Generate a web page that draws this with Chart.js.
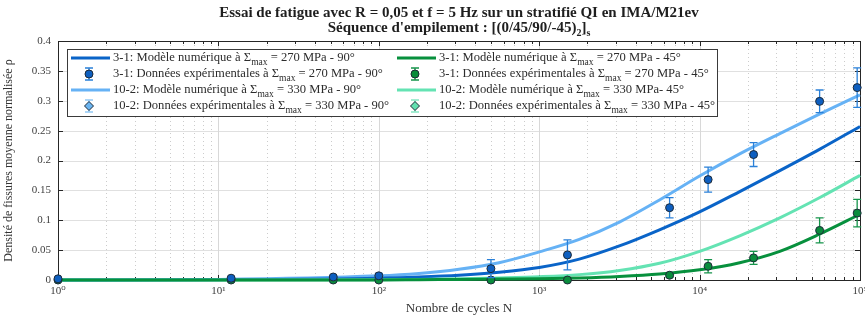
<!DOCTYPE html>
<html><head><meta charset="utf-8">
<script src="https://cdn.jsdelivr.net/npm/chart.js@4.4.1/dist/chart.umd.min.js"></script>
<style>html,body{margin:0;padding:0;background:#fff}#wrap{width:865px;height:320px;position:relative}</style>
</head><body><div id="wrap"><canvas id="c" width="865" height="320"></canvas></div>
<script>
// ---------- DATA ----------
const titleLines = [
  "Essai de fatigue avec R = 0,05 et f = 5 Hz sur un stratifié QI en IMA/M21ev",
  "Séquence d'empilement : [(0/45/90/-45)_{2}]_{s}"
];
const xAxisTitle = "Nombre de cycles N";
const yAxisTitle = "Densité de fissures moyenne normalisée ρ";

const seriesLabels = [
  "3-1: Modèle numérique à Σ_{max} = 270 MPa - 90°",
  "3-1: Données expérimentales à Σ_{max} = 270 MPa - 90°",
  "10-2: Modèle numérique à Σ_{max} = 330 MPa - 90°",
  "10-2: Données expérimentales à Σ_{max} = 330 MPa - 90°",
  "3-1: Modèle numérique à Σ_{max} = 270 MPa - 45°",
  "3-1: Données expérimentales à Σ_{max} = 270 MPa - 45°",
  "10-2: Modèle numérique à Σ_{max} = 330 MPa- 45°",
  "10-2: Données expérimentales à Σ_{max} = 330 MPa - 45°"
];

// model curves (N, rho) read at quarter decades
const modelN      = [1, 10, 100, 178, 316, 562, 1000, 1778, 3162, 5623, 10000, 17783, 31623, 56234, 100000];
const model31_90  = [0, 0.0005, 0.003, 0.005, 0.008, 0.013, 0.021, 0.035, 0.057, 0.084, 0.114, 0.148, 0.183, 0.219, 0.257];
const model102_90 = [0, 0.001, 0.007, 0.011, 0.018, 0.029, 0.047, 0.068, 0.097, 0.134, 0.174, 0.211, 0.245, 0.278, 0.310];
const model31_45  = [0, 0, 0, 0.0005, 0.001, 0.0015, 0.002, 0.0035, 0.006, 0.010, 0.017, 0.029, 0.048, 0.077, 0.110];
const model102_45 = [0, 0, 0.0005, 0.001, 0.002, 0.0035, 0.0055, 0.009, 0.016, 0.028, 0.048, 0.074, 0.104, 0.138, 0.175];

// experimental data
const expN      = [1, 12, 52, 100, 500, 1500, 6500, 11300, 21700, 56000, 96000];
const exp31_90  = [0.002, 0.003, 0.005, 0.007, 0.019, 0.042, 0.121, 0.168, 0.210, 0.299, 0.322];
const err31_90  = [0, 0.002, 0.002, 0.004, 0.015, 0.025, 0.017, 0.021, 0.020, 0.019, 0.033];
const exp31_45  = [0, 0, 0, 0, 0, 0, 0.008, 0.023, 0.037, 0.083, 0.112];
const err31_45  = [0, 0, 0, 0, 0, 0, 0.003, 0.011, 0.011, 0.021, 0.023];
const exp102_90 = [];
const err102_90 = [];
const exp102_45 = [];
const err102_45 = [];

const yTicks = [0, 0.05, 0.1, 0.15, 0.2, 0.25, 0.3, 0.35, 0.4];
const yTickLabels = ["0", "0.05", "0.1", "0.15", "0.2", "0.25", "0.3", "0.35", "0.4"];
const xDecades = [1, 10, 100, 1000, 10000, 100000];
const xTickLabels = ["10⁰", "10¹", "10²", "10³", "10⁴", "10⁵"];

// ---------- STYLE ----------
const C = {
  db: '#0a64c8', lb: '#66b2f5', dg: '#07903d', lg: '#64e3b3',
  dbMark: '#0e5fc0', dgMark: '#0a8c3c', lbMark: '#6ab4f0', lgMark: '#62e0b0',
  dbErr: '#2a80d8', dgErr: '#16944b', lbErr: '#92c9f5', lgErr: '#86e8c4',
  edge: '#1d2a38'
};
const SERIF = '"Liberation Serif", "DejaVu Serif", serif';

function pts(xs, ys) { return ys.map((y, i) => ({ x: xs[i], y: y })); }

function parseRich(s) {
  const out = []; const re = /_\{([^}]*)\}/g; let last = 0, m;
  while ((m = re.exec(s))) {
    if (m.index > last) out.push({ t: s.slice(last, m.index), sub: false });
    out.push({ t: m[1], sub: true }); last = re.lastIndex;
  }
  if (last < s.length) out.push({ t: s.slice(last), sub: false });
  return out;
}
function drawRich(ctx, s, x, y, font, subFont, align, subDy) {
  const segs = parseRich(s); let w = 0;
  segs.forEach(g => { ctx.font = g.sub ? subFont : font; g.w = ctx.measureText(g.t).width; w += g.w; });
  let cx = align === 'center' ? x - w / 2 : x;
  ctx.textBaseline = 'middle'; ctx.textAlign = 'left';
  segs.forEach(g => { ctx.font = g.sub ? subFont : font; ctx.fillText(g.t, cx, g.sub ? y + subDy : y); cx += g.w; });
}

const lineBase = { borderWidth: 3, pointRadius: 0, cubicInterpolationMode: 'monotone', clip: false };
const datasets = [
  Object.assign({ label: seriesLabels[0], data: pts(modelN, model31_90), borderColor: C.db, order: 4 }, lineBase),
  Object.assign({ label: seriesLabels[2], data: pts(modelN, model102_90), borderColor: C.lb, order: 5 }, lineBase),
  Object.assign({ label: seriesLabels[6], data: pts(modelN, model102_45), borderColor: C.lg, order: 3 }, lineBase),
  Object.assign({ label: seriesLabels[4], data: pts(modelN, model31_45), borderColor: C.dg, order: 2 }, lineBase),
  { label: seriesLabels[3], data: pts(expN, exp102_90), errors: err102_90, errColor: C.lbErr, showLine: false, pointStyle: 'rectRot', pointRadius: 4.5, backgroundColor: C.lbMark, borderColor: C.edge, borderWidth: 1, order: 1, clip: false },
  { label: seriesLabels[7], data: pts(expN, exp102_45), errors: err102_45, errColor: C.lgErr, showLine: false, pointStyle: 'rectRot', pointRadius: 4.5, backgroundColor: C.lgMark, borderColor: C.edge, borderWidth: 1, order: 1, clip: false },
  { label: seriesLabels[1], data: pts(expN, exp31_90), errors: err31_90, errColor: C.dbErr, showLine: false, pointStyle: 'circle', pointRadius: 4, backgroundColor: C.dbMark, borderColor: C.edge, borderWidth: 1, order: 0, clip: false },
  { label: seriesLabels[5], data: pts(expN, exp31_45), errors: err31_45, errColor: C.dgErr, showLine: false, pointStyle: 'circle', pointRadius: 4, backgroundColor: C.dgMark, borderColor: C.edge, borderWidth: 1, order: 0, clip: false }
];

// legend layout entries: [datasetIndex, col, row, symbol]
const legendItems = [
  [0, 0, 0, 'line'], [6, 0, 1, 'circle'], [1, 0, 2, 'line'], [4, 0, 3, 'diamond'],
  [3, 1, 0, 'line'], [7, 1, 1, 'circle'], [2, 1, 2, 'line'], [5, 1, 3, 'diamond']
];

const gridPlugin = {
  id: 'gridBox',
  beforeDatasetsDraw(chart) {
    const { ctx, chartArea: a, scales: { x, y } } = chart;
    ctx.save();
    ctx.strokeStyle = '#e0e0e0'; ctx.lineWidth = 1;
    yTicks.forEach(v => { const py = Math.round(y.getPixelForValue(v)) + 0.5; ctx.beginPath(); ctx.moveTo(a.left, py); ctx.lineTo(a.right, py); ctx.stroke(); });
    for (let d = 0; d < xDecades.length; d++) {
      const dec = xDecades[d];
      const px = Math.round(x.getPixelForValue(dec)) + 0.5;
      ctx.setLineDash([]); ctx.strokeStyle = '#d8d8d8';
      ctx.beginPath(); ctx.moveTo(px, a.top); ctx.lineTo(px, a.bottom); ctx.stroke();
      if (d < xDecades.length - 1) {
        ctx.setLineDash([1, 3]); ctx.strokeStyle = '#cccccc';
        for (let m = 2; m <= 9; m++) {
          const qx = Math.round(x.getPixelForValue(dec * m)) + 0.5;
          ctx.beginPath(); ctx.moveTo(qx, a.top); ctx.lineTo(qx, a.bottom); ctx.stroke();
        }
      }
    }
    ctx.setLineDash([]);
    ctx.strokeStyle = '#262626'; ctx.lineWidth = 1;
    ctx.strokeRect(Math.round(a.left) + 0.5, Math.round(a.top) + 0.5, Math.round(a.right - a.left), Math.round(a.bottom - a.top));
    yTicks.forEach(v => {
      const py = Math.round(y.getPixelForValue(v)) + 0.5;
      ctx.beginPath(); ctx.moveTo(a.left, py); ctx.lineTo(a.left + 5, py);
      ctx.moveTo(a.right, py); ctx.lineTo(a.right - 5, py); ctx.stroke();
    });
    for (let d = 0; d < xDecades.length; d++) {
      const dec = xDecades[d];
      const px = Math.round(x.getPixelForValue(dec)) + 0.5;
      ctx.beginPath(); ctx.moveTo(px, a.bottom); ctx.lineTo(px, a.bottom - 5);
      ctx.moveTo(px, a.top); ctx.lineTo(px, a.top + 5); ctx.stroke();
      if (d < xDecades.length - 1) {
        for (let m = 2; m <= 9; m++) {
          const qx = Math.round(x.getPixelForValue(dec * m)) + 0.5;
          ctx.beginPath(); ctx.moveTo(qx, a.bottom); ctx.lineTo(qx, a.bottom - 3);
          ctx.moveTo(qx, a.top); ctx.lineTo(qx, a.top + 3); ctx.stroke();
        }
      }
    }
    ctx.restore();
  },
  beforeDatasetDraw(chart, args) {
    const ds = chart.data.datasets[args.index];
    if (!ds.errors) return;
    const { ctx, scales: { x, y } } = chart;
    ctx.save(); ctx.strokeStyle = ds.errColor; ctx.lineWidth = 1.3;
    ds.data.forEach((p, i) => {
      const e = ds.errors[i]; if (!e) return;
      const px = x.getPixelForValue(p.x);
      const y1 = y.getPixelForValue(p.y - e), y2 = y.getPixelForValue(p.y + e);
      ctx.beginPath(); ctx.moveTo(px, y1); ctx.lineTo(px, y2);
      ctx.moveTo(px - 4, y1); ctx.lineTo(px + 4, y1);
      ctx.moveTo(px - 4, y2); ctx.lineTo(px + 4, y2); ctx.stroke();
    });
    ctx.restore();
  },
  afterDraw(chart) {
    const { ctx, chartArea: a } = chart;
    ctx.save();
    ctx.fillStyle = '#1e1e1e';
    const cx = (a.left + a.right) / 2;
    drawRich(ctx, titleLines[0], cx, 13, 'bold 15px ' + SERIF, 'bold 10px ' + SERIF, 'center', 4);
    drawRich(ctx, titleLines[1], cx, 28, 'bold 15px ' + SERIF, 'bold 10px ' + SERIF, 'center', 5);
    const bx = 67, by = 49, bw = 650, bh = 67;
    ctx.fillStyle = '#ffffff'; ctx.fillRect(bx, by, bw, bh);
    ctx.strokeStyle = '#3a3a3a'; ctx.lineWidth = 1; ctx.strokeRect(bx + 0.5, by + 0.5, bw, bh);
    const colX = [71, 397], rowY = [58, 74, 90, 106];
    legendItems.forEach(([di, col, row, sym]) => {
      const ds = chart.data.datasets[di];
      const x0 = colX[col], yy = rowY[row];
      if (sym === 'line') {
        ctx.strokeStyle = ds.borderColor; ctx.lineWidth = 3;
        ctx.beginPath(); ctx.moveTo(x0, yy); ctx.lineTo(x0 + 39, yy); ctx.stroke();
      } else {
        const mx = x0 + 18;
        ctx.strokeStyle = ds.errColor; ctx.lineWidth = 1.3;
        ctx.beginPath(); ctx.moveTo(mx, yy - 6); ctx.lineTo(mx, yy + 6);
        ctx.moveTo(mx - 4, yy - 6); ctx.lineTo(mx + 4, yy - 6);
        ctx.moveTo(mx - 4, yy + 6); ctx.lineTo(mx + 4, yy + 6); ctx.stroke();
        ctx.fillStyle = ds.backgroundColor; ctx.strokeStyle = C.edge; ctx.lineWidth = 1;
        ctx.beginPath();
        if (sym === 'circle') ctx.arc(mx, yy, 4, 0, Math.PI * 2);
        else { ctx.moveTo(mx, yy - 4.5); ctx.lineTo(mx + 4.5, yy); ctx.lineTo(mx, yy + 4.5); ctx.lineTo(mx - 4.5, yy); ctx.closePath(); }
        ctx.fill(); ctx.stroke();
      }
      ctx.fillStyle = '#2c2c2c';
      drawRich(ctx, ds.label, x0 + 42, yy, '12.6px ' + SERIF, '9.5px ' + SERIF, 'left', 4);
    });
    ctx.restore();
  }
};

new Chart(document.getElementById('c'), {
  type: 'line',
  data: { datasets: datasets },
  options: {
    responsive: false, animation: false, devicePixelRatio: 1,
    layout: { padding: { top: 41, right: 3, left: 0, bottom: 0 } },
    plugins: { legend: { display: false }, tooltip: { enabled: false }, title: { display: false } },
    scales: {
      x: {
        type: 'logarithmic', min: 1, max: 100000,
        grid: { display: false, drawTicks: false }, border: { display: false },
        ticks: {
          autoSkip: false, maxRotation: 0, padding: 5, color: '#404040',
          font: { family: SERIF, size: 11 },
          callback: (v) => { const i = xDecades.indexOf(v); return i >= 0 ? xTickLabels[i] : ''; }
        },
        title: { display: true, text: xAxisTitle, color: '#333', font: { family: SERIF, size: 13 }, padding: { top: 0, bottom: 4 } },
        afterFit: (s) => { s.height = 40; s.paddingLeft = 0; s.paddingRight = 0; }
      },
      y: {
        min: 0, max: 0.4,
        afterBuildTicks: (s) => { s.ticks = yTicks.map(v => ({ value: v })); },
        grid: { display: false, drawTicks: false }, border: { display: false },
        ticks: {
          padding: 7, color: '#404040', font: { family: SERIF, size: 11 },
          callback: (v) => { const i = yTicks.findIndex(t => Math.abs(t - v) < 1e-9); return i >= 0 ? yTickLabels[i] : ''; }
        },
        title: { display: true, text: yAxisTitle, color: '#333', font: { family: SERIF, size: 12 }, padding: { top: 2, bottom: 0 } },
        afterFit: (s) => { s.width = 58; s.paddingTop = 0; s.paddingBottom = 0; }
      }
    }
  },
  plugins: [gridPlugin]
});
</script>
</body></html>
